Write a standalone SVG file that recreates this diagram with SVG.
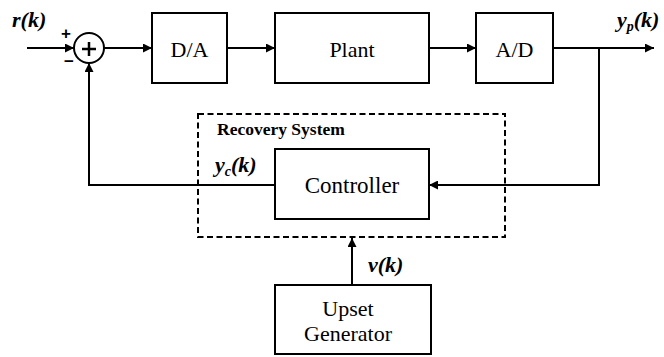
<svg xmlns="http://www.w3.org/2000/svg" width="664" height="357" viewBox="0 0 664 357">
  <style>
    .box { fill: #fff; stroke: #000; stroke-width: 2; }
    .wire { fill: none; stroke: #000; stroke-width: 2; }
    .dash { fill: none; stroke: #000; stroke-width: 2; stroke-dasharray: 6 3.5; }
    text { font-family: "Liberation Serif", "Times New Roman", serif; fill: #000; }
    .lbl { font-size: 22px; text-anchor: middle; }
    .big { font-size: 23px; }
    .sig { font-size: 22px; font-style: italic; font-weight: bold; }
    .sub { font-size: 14px; }
    .sign { font-family: "Liberation Sans", Arial, sans-serif; font-size: 17px; font-weight: bold; }
    .title { font-size: 17.5px; font-weight: bold; }
  </style>
  <defs>
    <marker id="arrow" viewBox="0 0 10 10" refX="10" refY="5" markerWidth="11" markerHeight="9" markerUnits="userSpaceOnUse" orient="auto">
      <path d="M0,0 L10,5 L0,10 Z" fill="#000"/>
    </marker>
  </defs>

  <g id="connectors">
    <line class="wire" x1="27" y1="48" x2="74" y2="48" marker-end="url(#arrow)"/>
    <line class="wire" x1="104" y1="48" x2="152" y2="48" marker-end="url(#arrow)"/>
    <line class="wire" x1="227" y1="48" x2="275" y2="48" marker-end="url(#arrow)"/>
    <line class="wire" x1="429" y1="48" x2="476" y2="48" marker-end="url(#arrow)"/>
    <line class="wire" x1="553" y1="48" x2="654" y2="48" marker-end="url(#arrow)"/>
    <polyline class="wire" points="599,48 599,185 429,185" marker-end="url(#arrow)"/>
    <polyline class="wire" points="275,185 89,185 89,63" marker-end="url(#arrow)"/>
    <line class="wire" x1="352" y1="285" x2="352" y2="238" marker-end="url(#arrow)"/>
  </g>

  <g id="sum">
    <circle cx="89" cy="48" r="15" fill="#fff" stroke="#000" stroke-width="2"/>
    <path d="M82,49 H96 M89,42 V56" stroke="#000" stroke-width="2.5"/>
    <text class="sign" x="61" y="39">+</text>
    <text class="sign" x="64" y="67">−</text>
  </g>

  <g id="recovery-system">
    <rect class="dash" x="198" y="114" width="307" height="123"/>
    <text class="title" x="217" y="135">Recovery System</text>
  </g>

  <g id="da">
    <rect class="box" x="152" y="13" width="75" height="70"/>
    <text class="lbl" x="189.5" y="57">D/A</text>
  </g>
  <g id="plant">
    <rect class="box" x="275" y="13" width="154" height="70"/>
    <text class="lbl" x="352" y="57">Plant</text>
  </g>
  <g id="ad">
    <rect class="box" x="476" y="13" width="77" height="70"/>
    <text class="lbl" x="514.5" y="57">A/D</text>
  </g>
  <g id="controller">
    <rect class="box" x="275" y="149" width="154" height="70"/>
    <text class="lbl big" x="352" y="193">Controller</text>
  </g>
  <g id="upset-generator">
    <rect class="box" x="275" y="285" width="156" height="69"/>
    <text class="lbl" x="348" y="316">Upset</text>
    <text class="lbl" x="348" y="341">Generator</text>
  </g>

  <g id="signal-labels">
    <text class="sig" x="12" y="27">r(k)</text>
    <text class="sig" x="617" y="27">y<tspan class="sub" dy="4">p</tspan><tspan dy="-4">(k)</tspan></text>
    <text class="sig" x="215" y="172">y<tspan class="sub" dy="4">c</tspan><tspan dy="-4">(k)</tspan></text>
    <text class="sig" x="368" y="272">v(k)</text>
  </g>
</svg>
